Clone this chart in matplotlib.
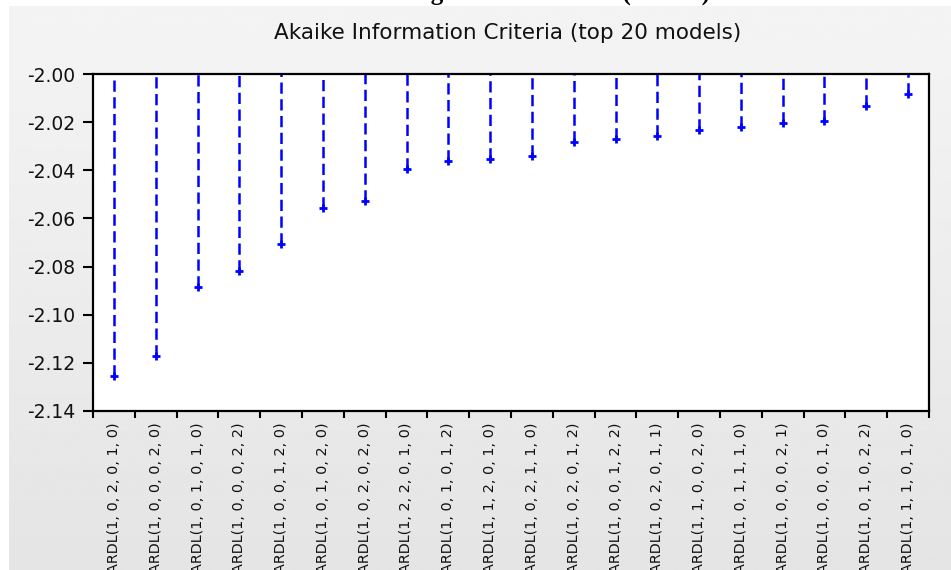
import numpy as np
import matplotlib.pyplot as plt

# top 20 ARDL specifications ranked by AIC
models = [
    "ARDL(1, 0, 2, 0, 1, 0)", "ARDL(1, 0, 0, 0, 2, 0)", "ARDL(1, 0, 1, 0, 1, 0)",
    "ARDL(1, 0, 0, 0, 2, 2)", "ARDL(1, 0, 0, 1, 2, 0)", "ARDL(1, 0, 1, 0, 2, 0)",
    "ARDL(1, 0, 2, 0, 2, 0)", "ARDL(1, 2, 2, 0, 1, 0)", "ARDL(1, 0, 1, 0, 1, 2)",
    "ARDL(1, 1, 2, 0, 1, 0)", "ARDL(1, 0, 2, 1, 1, 0)", "ARDL(1, 0, 2, 0, 1, 2)",
    "ARDL(1, 0, 0, 1, 2, 2)", "ARDL(1, 0, 2, 0, 1, 1)", "ARDL(1, 1, 0, 0, 2, 0)",
    "ARDL(1, 0, 1, 1, 1, 0)", "ARDL(1, 0, 0, 0, 2, 1)", "ARDL(1, 0, 0, 0, 1, 0)",
    "ARDL(1, 0, 1, 0, 2, 2)", "ARDL(1, 1, 1, 0, 1, 0)",
]
aic = [
    -2.1255, -2.1172, -2.0886, -2.0818, -2.0705, -2.0556, -2.0528, -2.0393,
    -2.0363, -2.0354, -2.0341, -2.0284, -2.0272, -2.0256, -2.0233, -2.0220,
    -2.0204, -2.0195, -2.0135, -2.0082,
]
yticks = [-2.14, -2.12, -2.10, -2.08, -2.06, -2.04, -2.02, -2.00]

fig = plt.figure(figsize=(9.51, 5.70), dpi=100, facecolor="white")

# grey panel behind the chart, slightly darker toward the bottom
bg = fig.add_axes([9 / 951, 0, 1 - 9 / 951, 1 - 6 / 570], zorder=-10)
grad = np.linspace(0.957, 0.895, 256).reshape(-1, 1)
bg.imshow(grad, aspect="auto", cmap="gray", vmin=0, vmax=1,
          extent=[0, 1, 0, 1], origin="upper")
bg.set_axis_off()

# caption line from the page above, mostly cut off
fig.text(482 / 951, 1.0, "of Manufacturing Growth Models (ARDL)",
         ha="center", va="baseline", fontsize=18, fontweight="bold",
         family="Liberation Serif", color="black")

ax = fig.add_axes([93 / 951, 1 - 411 / 570, (929 - 93) / 951, (411 - 74) / 570])
ax.set_facecolor("white")

x = np.arange(len(models))
ax.vlines(x, aic, -2.00, colors="#0000ff", linewidth=1.8,
          linestyles=(0, (4.5, 2.2)))
ax.plot(x, aic, linestyle="none", marker="+", color="#0000ff",
        markersize=6, markeredgewidth=2)

ax.set_xlim(-0.5, len(models) - 0.5)
ax.set_ylim(-2.14, -2.00)
ax.set_yticks(yticks)
ax.set_yticklabels([f"{v:.2f}" for v in yticks])

# boundary ticks between models, labels centred under each stem
ax.set_xticks(np.arange(-0.5, len(models), 1.0))
ax.set_xticklabels([])
ax.set_xticks(x, minor=True)
ax.set_xticklabels(models, minor=True, rotation=90, va="top", ha="center",
                   fontsize=10.4, family="DejaVu Sans", color="#111111")
ax.tick_params(axis="x", which="major", direction="out", length=5, width=1.5)
ax.tick_params(axis="x", which="minor", length=0, pad=8)
ax.tick_params(axis="y", direction="out", length=7, width=1.5, pad=6,
               labelsize=13.5, labelcolor="#111111")
for lbl in ax.get_yticklabels():
    lbl.set_family("DejaVu Sans")

for side in ["left", "bottom", "top", "right"]:
    ax.spines[side].set_linewidth(1.6)
    ax.spines[side].set_color("black")

fig.text(508 / 951, 1 - 33 / 570, "Akaike Information Criteria (top 20 models)",
         ha="center", va="center", fontsize=15.5, family="DejaVu Sans",
         color="#111111")

fig.savefig("out.png", dpi=100)
